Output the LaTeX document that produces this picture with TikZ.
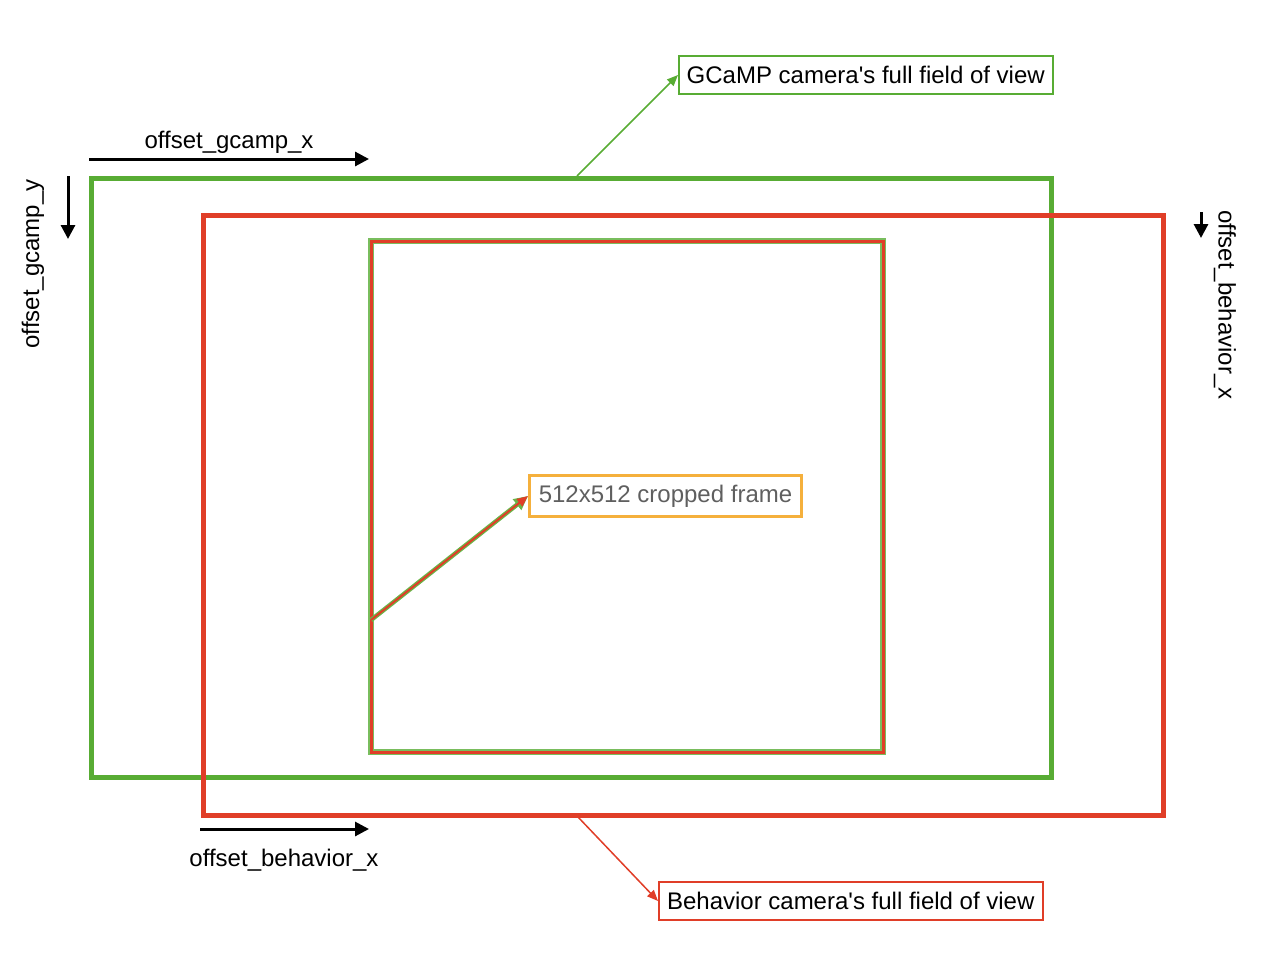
\documentclass[tikz,border=0pt]{standalone}
\usepackage{fontspec}
\setmainfont{Liberation Sans}
\usetikzlibrary{arrows.meta}
\definecolor{cgreen}{RGB}{88,172,52}
\definecolor{cred}{RGB}{224,62,40}
\definecolor{corange}{RGB}{245,176,60}
\definecolor{cgray}{RGB}{95,95,95}
\begin{document}
\begin{tikzpicture}[x=1pt,y=-1pt,
  lbl/.style={font=\fontsize{24}{28}\selectfont, inner sep=0pt},
  fbox/.style={draw, line width=1.5pt, inner sep=4pt, font=\fontsize{24}{28}\selectfont, minimum height=38pt},
  blk/.style={line width=3pt, -{Triangle[length=14pt,width=14pt]}},
  thin/.style={line width=1.5pt, -{Triangle[length=11pt,width=9pt]}}]
\useasboundingbox (0,0) rectangle (1276,974);
% outer frames
\draw[cgreen, line width=5pt] (91,178) rectangle (1051,777);
\draw[cred, line width=5pt] (203,215) rectangle (1163,815);
% cropped frame
\draw[cgreen!80, line width=5.5pt] (371,241) rectangle (883,752);
\draw[cred, line width=3pt] (371,241) rectangle (883,752);
\coordinate (cf) at (371,620);
\node[fbox, draw=corange, line width=3pt, text=cgray, anchor=west, minimum height=41pt, minimum width=272pt] (crop) at (528,496) {512x512 cropped frame};
\draw[cgreen!90, line width=4.5pt, -{Triangle[length=14pt,width=13pt]}] (cf) -- (crop.west);
\draw[cred, line width=2pt, -{Triangle[length=11pt,width=9pt]}] (cf) -- (crop.west);
% labels
\node[fbox, draw=cgreen, anchor=west, minimum width=374pt] (gl) at (678,75) {GCaMP camera\textquotesingle s full field of view};
\node[fbox, draw=cred, anchor=west, minimum width=384pt] (bl) at (658,901) {Behavior camera\textquotesingle s full field of view};
\coordinate (gs) at (577,176);
\coordinate (bs) at (578,817);
\draw[cgreen, thin] (gs) -- (gl.west);
\draw[cred, thin] (bs) -- (bl.west);
% offsets
\coordinate (gx0) at (89,159); \coordinate (gx1) at (369,159);
\draw[blk] (gx0) -- (gx1);
\node[lbl] (tgx) at (229,142) {offset\_gcamp\_x};
\coordinate (gy0) at (68,176); \coordinate (gy1) at (68,239);
\draw[blk] (gy0) -- (gy1);
\node[lbl, rotate=90] (tgy) at (33,264) {offset\_gcamp\_y};
\coordinate (bx0) at (200,829); \coordinate (bx1) at (369,829);
\draw[blk] (bx0) -- (bx1);
\node[lbl] (tbx) at (284,860) {offset\_behavior\_x};
\coordinate (by0) at (1201,212); \coordinate (by1) at (1201,238);
\draw[blk] (by0) -- (by1);
\node[lbl, rotate=-90] (tby) at (1225,305) {offset\_behavior\_x};
\end{tikzpicture}
\end{document}
